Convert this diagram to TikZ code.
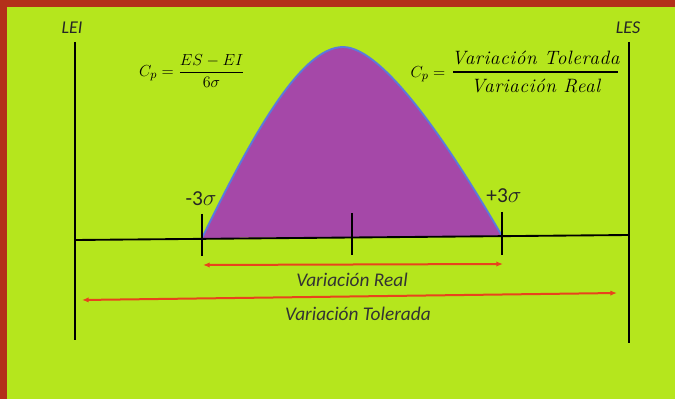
\documentclass[tikz,border=0pt]{standalone}
\usepackage{amsmath}
\usepackage{fontspec}
\newfontfamily\carlito{Carlito}
\newfontfamily\widefam[LetterSpace=3]{Latin Modern Roman}
\usetikzlibrary{arrows.meta}
\definecolor{bggreen}{HTML}{B5E61D}
\definecolor{framered}{HTML}{B3301A}
\definecolor{purp}{HTML}{A548A8}
\definecolor{curveblue}{HTML}{5A7BDC}
\definecolor{arrred}{HTML}{E8431C}
\begin{document}
\begin{tikzpicture}[x=0.75pt,y=-0.75pt,
  limit/.style={line width=1.4pt, black},
  axisline/.style={line width=1.4pt, black},
  tick/.style={line width=1.2pt, black},
  span/.style={arrred, line width=1.5pt, {Latex[length=5pt,width=4pt]}-{Latex[length=5pt,width=4pt]}},
  lbl/.style={font=\carlito\itshape\fontsize{13.5}{15}\selectfont, text=black!85, inner sep=1pt},
  spanlbl/.style={font=\carlito\itshape\fontsize{14.5}{16}\selectfont, text=black!80, inner sep=1pt},
  sig/.style={font=\carlito\fontsize{16}{18}\selectfont, text=black!85, inner sep=1pt},
  formula/.style={font=\fontsize{13}{15}\selectfont, text=black, inner sep=1pt},
  fractext/.style={font=\widefam\itshape\fontsize{14.5}{16}\selectfont, text=black, inner sep=1pt},
  fracbar/.style={line width=0.8pt, black}]
\fill[framered] (0,0) rectangle (675,399);
\fill[bggreen] (7,7) rectangle (675,399);
\useasboundingbox (0,0) rectangle (675,399);

% bell curve
\coordinate (cL) at (202,238);
\coordinate (cTop) at (343,47);
\coordinate (cR) at (502,236);
\fill[purp] (cL) .. controls (250,140) and (300,47) .. (cTop) .. controls (385,47) and (455,155) .. (cR) -- cycle;
\draw[curveblue, line width=1.4pt] (cL) .. controls (250,140) and (300,47) .. (cTop) .. controls (385,47) and (455,155) .. (cR);

% coordinates
\coordinate (leiT) at (75,42);
\coordinate (leiB) at (75,340);
\coordinate (lesT) at (629,42);
\coordinate (lesB) at (629,343);
\coordinate (axL) at (75,240);
\coordinate (axR) at (629,235);
\coordinate (t1T) at (202,214); \coordinate (t1B) at (202,256);
\coordinate (t2T) at (352,213); \coordinate (t2B) at (352,255);
\coordinate (t3T) at (502,212); \coordinate (t3B) at (502,255);
\coordinate (rL) at (203,265); \coordinate (rR) at (503,264);
\coordinate (tL) at (82,300); \coordinate (tR) at (617,293);

\draw[limit] (leiT) -- (leiB);
\draw[limit] (lesT) -- (lesB);
\draw[axisline] (axL) -- (axR);
\draw[tick] (t1T) -- (t1B);
\draw[tick] (t2T) -- (t2B);
\draw[tick] (t3T) -- (t3B);
\draw[span] (rL) -- (rR);
\draw[span] (tL) -- (tR);

\node[lbl] (lei) at (72,28) {LEI};
\node[lbl] (les) at (628,28) {LES};
\node[sig] (m3) at (201,199) {-3$\sigma$};
\node[sig] (p3) at (504,196) {+3$\sigma$};
\node[spanlbl] (vr) at (352,280) {Variación Real};
\node[spanlbl] (vt) at (358,314) {Variación Tolerada};

\node[formula] (f1) at (192,71) {$C_p=\dfrac{ES-EI}{6\sigma}$};

% right formula
\node[formula] (cp2) at (428,74) {$C_p=$};
\coordinate (barL) at (453,72);
\coordinate (barR) at (618,72);
\draw[fracbar] (barL) -- (barR);
\node[fractext] (num) at (535.5,58) {Variación Tolerada};
\node[fractext] (den) at (535.5,86) {Variación Real};
\end{tikzpicture}
\end{document}
